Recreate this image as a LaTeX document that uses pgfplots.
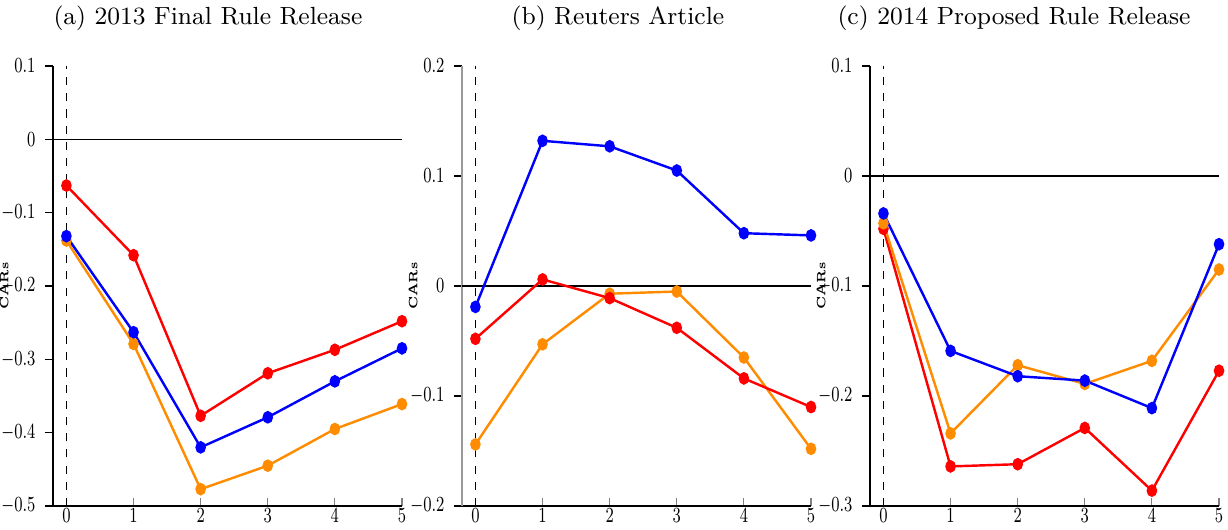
\documentclass[border=0pt]{standalone}
\usepackage{graphicx}
\usepackage{pgfplots}
\pgfplotsset{compat=1.18}
\definecolor{cred}{RGB}{255,0,0}
\definecolor{cblue}{RGB}{0,0,255}
\definecolor{corange}{RGB}{255,140,0}
\pgfplotsset{
  panel/.style={
    scale only axis, width=4.547cm, height=5.733cm,
    axis lines=left, axis line style={-, line width=0.6pt},
    xmin=-0.2, xmax=5,
    xtick={0,1,2,3,4,5},
    x tick style={gray, thin}, xtick align=inside,
    y tick style={black, thin}, ytick align=outside,
    major tick length=3pt,
    tick label style={font=\fontsize{8}{9}\selectfont},
    xticklabel style={inner sep=0.8pt},
    yticklabel={\scalebox{0.72}[1]{\axisdefaultticklabel}},
    xticklabel={\scalebox{0.72}[1]{\axisdefaultticklabel}},
    ylabel={\textbf{CARs}},
    ylabel style={font=\fontsize{4.5}{5}\selectfont, at={(axis description cs:-0.1,0.5)}, anchor=south},
    clip=false,
  },
  ser/.style={#1, line width=0.9pt, mark=*, mark size=1.5pt, mark options={solid, yscale=1.25, fill=#1}},
}
\begin{document}
\begin{tikzpicture}
\useasboundingbox (-0.6905,-0.2997) rectangle (15.309,6.593);
% panel a
\begin{axis}[panel, at={(0,0)}, ymin=-0.5, ymax=0.1, ytick={-0.5,-0.4,-0.3,-0.2,-0.1,0,0.1}]
\addplot[black, thin, dashed, forget plot] coordinates {(0,-0.5) (0,0.1)};
\addplot[black, line width=0.6pt, forget plot] coordinates {(-0.2,0) (5,0)};
\addplot[ser=corange] coordinates {(0,-0.138) (1,-0.279) (2,-0.477) (3,-0.445) (4,-0.395) (5,-0.361)};
\addplot[ser=cblue] coordinates {(0,-0.132) (1,-0.263) (2,-0.420) (3,-0.379) (4,-0.330) (5,-0.285)};
\addplot[ser=cred] coordinates {(0,-0.063) (1,-0.158) (2,-0.377) (3,-0.319) (4,-0.287) (5,-0.248)};
\end{axis}
% panel b
\begin{axis}[panel, at={(5.329cm,0)}, ymin=-0.2, ymax=0.2, ytick={-0.2,-0.1,0,0.1,0.2},
  y axis line style={gray!80}]
\addplot[black, thin, dashed, forget plot] coordinates {(0,-0.2) (0,0.2)};
\addplot[black, line width=0.6pt, forget plot] coordinates {(-0.2,0) (5,0)};
\addplot[ser=corange] coordinates {(0,-0.144) (1,-0.053) (2,-0.007) (3,-0.005) (4,-0.065) (5,-0.148)};
\addplot[ser=cred] coordinates {(0,-0.048) (1,0.006) (2,-0.011) (3,-0.038) (4,-0.084) (5,-0.110)};
\addplot[ser=cblue] coordinates {(0,-0.019) (1,0.132) (2,0.127) (3,0.105) (4,0.048) (5,0.046)};
\end{axis}
% panel c
\begin{axis}[panel, at={(10.645cm,0)}, ymin=-0.3, ymax=0.1, ytick={-0.3,-0.2,-0.1,0,0.1}]
\addplot[black, thin, dashed, forget plot] coordinates {(0,-0.3) (0,0.1)};
\addplot[black, line width=0.6pt, forget plot] coordinates {(-0.2,0) (5,0)};
\addplot[ser=cred] coordinates {(0,-0.048) (1,-0.264) (2,-0.262) (3,-0.229) (4,-0.286) (5,-0.177)};
\addplot[ser=corange] coordinates {(0,-0.043) (1,-0.234) (2,-0.172) (3,-0.189) (4,-0.168) (5,-0.085)};
\addplot[ser=cblue] coordinates {(0,-0.034) (1,-0.159) (2,-0.182) (3,-0.186) (4,-0.211) (5,-0.062)};
\end{axis}
\node[font=\fontsize{9.2}{11}\selectfont] at (2.019,6.358) {(a) 2013 Final Rule Release};
\node[font=\fontsize{9.2}{11}\selectfont] at (7.361,6.358) {(b) Reuters Article};
\node[font=\fontsize{9.2}{11}\selectfont] at (12.521,6.358) {(c) 2014 Proposed Rule Release};
\end{tikzpicture}
\end{document}
